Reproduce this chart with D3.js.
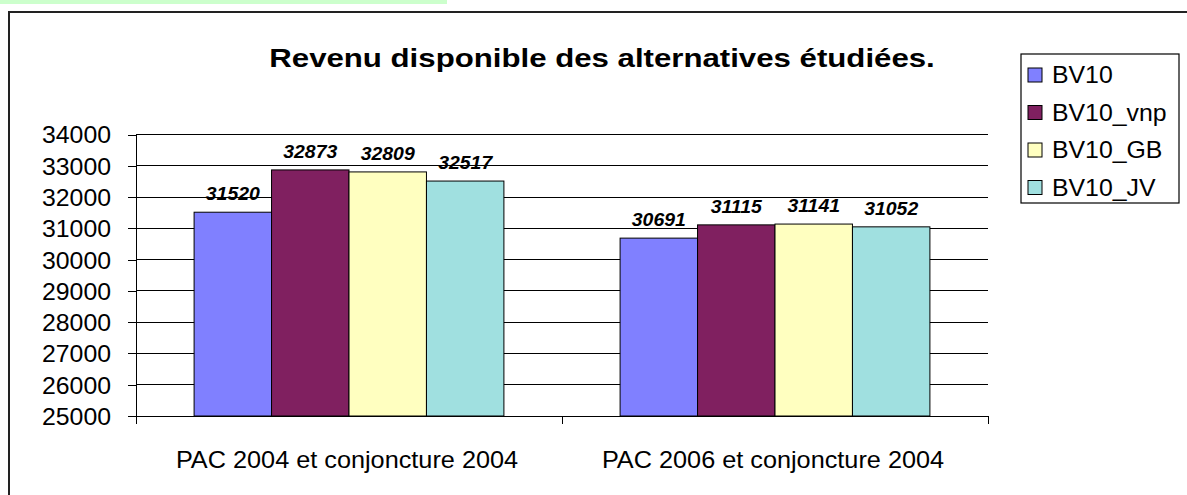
<!DOCTYPE html>
<html>
<head>
<meta charset="utf-8">
<script src="https://cdn.jsdelivr.net/npm/d3@7"></script>
<style>
  body { margin: 0; background: #fff; }
  svg { display: block; font-family: "Liberation Sans", Arial, sans-serif; }
</style>
</head>
<body>
<div id="chart"></div>
<script>
var categories = ["PAC 2004 et conjoncture 2004", "PAC 2006 et conjoncture 2004"];
var series = ["BV10", "BV10_vnp", "BV10_GB", "BV10_JV"];
var valuesPac2004 = [31520, 32873, 32809, 32517];
var valuesPac2006 = [30691, 31115, 31141, 31052];
var colors = ["#8080ff", "#802060", "#ffffc0", "#a0e0e0"];
var yTicks = [25000, 26000, 27000, 28000, 29000, 30000, 31000, 32000, 33000, 34000];

var rows = [valuesPac2004, valuesPac2006];

var W = 1187, H = 495;
var SX = 1.08; // the text in the picture is a little wider than plain Arial

var svg = d3.select("#chart")
    .append("svg")
    .attr("width", W)
    .attr("height", H)

// green strip at the top
svg.append("rect")
    .attr("x", 0).attr("y", 0)
    .attr("width", 447).attr("height", 4)
    .attr("fill", "#ccffcc")

// outer frame
svg.append("rect")
    .attr("x", 9).attr("y", 12)
    .attr("width", 1400).attr("height", 700)
    .attr("fill", "none")
    .attr("stroke", "#222")
    .attr("stroke-width", 2)

var x0 = d3.scaleBand()
    .domain(categories)
    .range([136, 988])

var x1 = d3.scaleBand()
    .domain(series)
    .range([0, x0.bandwidth()])
    .paddingOuter(0.75)

var y = d3.scaleLinear()
    .domain([25000, 34000])
    .range([416, 134.7])

function stretched(sel, px, py) {
    sel.attr("transform", function(d, i) {
        return "translate(" + px(d, i) + "," + py(d, i) + ") scale(" + SX + ",1)";
    })
}

// title
svg.append("text")
    .text("Revenu disponible des alternatives étudiées.")
    .attr("font-size", 26)
    .attr("font-weight", "bold")
    .attr("text-anchor", "middle")
    .attr("transform", "translate(602,67) scale(1.2,1)")

// gridlines
svg.append("g")
    .selectAll("line")
    .data(yTicks.slice(1))
    .join("line")
    .attr("x1", 136).attr("x2", 988)
    .attr("y1", d => y(d)).attr("y2", d => y(d))
    .attr("stroke", "#000")
    .attr("stroke-width", 1)
    .attr("shape-rendering", "crispEdges")

// y axis
var yAxis = svg.append("g")
    .attr("transform", "translate(136,0)")
    .call(d3.axisLeft(y).tickValues(yTicks).tickSize(8).tickSizeOuter(0).tickFormat(d3.format("d")))

yAxis.select(".domain").attr("d", "M0," + y(34000) + "V424")
yAxis.selectAll("line, path").attr("stroke", "#000").attr("shape-rendering", "crispEdges")
yAxis.selectAll("text")
    .attr("font-size", 23)
    .attr("font-family", "Liberation Sans, Arial, sans-serif")
    .attr("fill", "#000")
    .attr("x", -25 / SX)
    .attr("dy", "0.36em")
    .attr("transform", "scale(" + SX + ",1)")

// bars
var groups = svg.append("g")
    .selectAll("g")
    .data(rows)
    .join("g")
    .attr("transform", (d, i) => "translate(" + x0(categories[i]) + ",0)")

groups.selectAll("rect")
    .data(d => d)
    .join("rect")
    .attr("x", (d, j) => x1(series[j]))
    .attr("width", x1.bandwidth())
    .attr("y", d => y(d))
    .attr("height", d => y(25000) - y(d))
    .attr("fill", (d, j) => colors[j])
    .attr("stroke", "#000")
    .attr("stroke-width", 1)

groups.selectAll("text")
    .data(d => d)
    .join("text")
    .text(d => d)
    .attr("font-size", 18)
    .attr("font-weight", "bold")
    .attr("font-style", "italic")
    .attr("text-anchor", "middle")
    .call(stretched, (d, j) => x1(series[j]) + x1.bandwidth() / 2, d => y(d) - 12)

// x axis
var xAxis = svg.append("g")
    .attr("transform", "translate(0,416)")
    .call(d3.axisBottom(x0).tickSize(0).tickSizeOuter(0))

xAxis.select(".domain").attr("stroke", "#000").attr("shape-rendering", "crispEdges")
xAxis.selectAll("text")
    .attr("font-size", 23.4)
    .attr("font-family", "Liberation Sans, Arial, sans-serif")
    .attr("fill", "#000")
    .attr("y", 52)
    .attr("dy", 0)
    .attr("transform", "scale(" + SX + ",1)")
xAxis.selectAll(".tick").attr("transform", d => "translate(" + (x0(d) + x0.bandwidth() / 2 - 2) + ",0)")

var edges = [x0.range()[0]].concat(categories.map(c => x0(c) + x0.bandwidth()))
xAxis.append("g")
    .selectAll("line")
    .data(edges)
    .join("line")
    .attr("x1", d => d).attr("x2", d => d)
    .attr("y1", 0).attr("y2", 8)
    .attr("stroke", "#000")
    .attr("shape-rendering", "crispEdges")

// legend
var legend = svg.append("g")

legend.append("rect")
    .attr("x", 1021).attr("y", 54)
    .attr("width", 158).attr("height", 149)
    .attr("fill", "#fff")
    .attr("stroke", "#000")
    .attr("stroke-width", 1.2)

var items = legend.selectAll("g")
    .data(series)
    .join("g")
    .attr("transform", (d, i) => "translate(1028," + (75 + i * 37.5) + ")")

items.append("rect")
    .attr("x", 0).attr("y", -7)
    .attr("width", 14).attr("height", 14)
    .attr("fill", (d, i) => colors[i])
    .attr("stroke", "#000")

items.append("text")
    .text(d => d)
    .attr("font-size", 23)
    .attr("dy", "0.36em")
    .attr("transform", "translate(24,0) scale(" + SX + ",1)")
</script>
</body>
</html>
